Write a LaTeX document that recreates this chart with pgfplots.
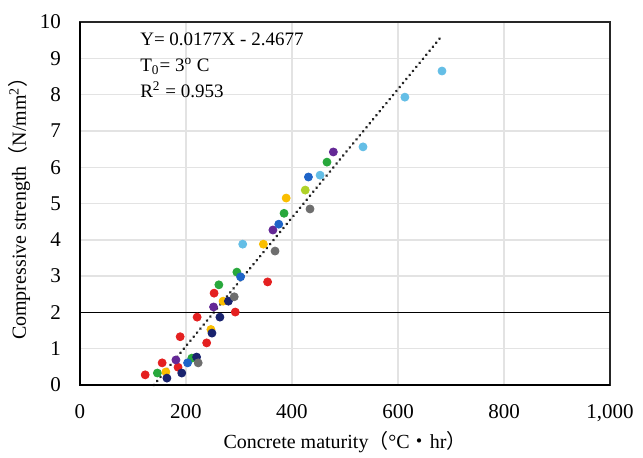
\documentclass[border=0pt]{standalone}
\usepackage{pgfplots}
\pgfplotsset{compat=1.18}
\usepackage{fontspec}
\setmainfont{Liberation Serif}
\newfontfamily\cjk{Noto Sans CJK JP}
\definecolor{cred}{RGB}{228,32,32}
\definecolor{cgreen}{RGB}{40,168,60}
\definecolor{cyellow}{RGB}{250,190,0}
\definecolor{cnavy}{RGB}{25,35,110}
\definecolor{cpurple}{RGB}{100,40,150}
\definecolor{cblue}{RGB}{30,100,200}
\definecolor{cgray}{RGB}{110,110,110}
\definecolor{clblue}{RGB}{100,190,230}
\definecolor{cygreen}{RGB}{175,210,40}
\begin{document}
\begin{tikzpicture}[font=\fontsize{10}{12}\selectfont,
  pt/.style={only marks, mark=*, mark size=2pt, color=#1}]
\begin{axis}[
    name=ax,
    scale only axis,
    width=265pt, height=181.5pt,
    xmin=0, xmax=1000, ymin=0, ymax=10,
    xtick={0,200,...,1000}, ytick={0,1,...,10},
    major tick length=0pt,
    grid=major,
    major grid style={line width=0.7pt, draw=gray!22},
    axis line style={line width=0.8pt, draw=black!85},
    /pgf/number format/assume math mode=true,
    /pgf/number format/1000 sep={,},
    tick label style={font=\fontsize{10.5}{12}\selectfont},
    xticklabel style={yshift=-6pt},
    yticklabel style={xshift=-6pt},
    xlabel={Concrete maturity{\cjk （}°C{\cjk ・}hr{\cjk ）}},
    ylabel={Compressive strength{\cjk （}N/mm\textsuperscript{2}{\cjk ）}},
    xlabel style={yshift=2pt},
    ylabel style={yshift=-2pt},
    clip=false,
]
\addplot[pt=cred] coordinates {(123,0.28) (155,0.61) (185,0.49) (189,1.33) (239,1.16) (221,1.87) (293,2.01) (253,2.53) (354,2.84)};
\addplot[pt=cgreen] coordinates {(146,0.33) (211,0.74) (262,2.76) (296,3.11) (385,4.73) (466,6.14)};
\addplot[pt=cyellow] coordinates {(162,0.36) (247,1.53) (270,2.31) (346,3.88) (389,5.15)};
\addplot[pt=cnavy] coordinates {(164,0.19) (192,0.33) (220,0.77) (249,1.43) (264,1.87) (280,2.31)};
\addplot[pt=cpurple] coordinates {(181,0.69) (252,2.15) (364,4.27) (478,6.42)};
\addplot[pt=cblue] coordinates {(203,0.61) (303,2.98) (375,4.43) (431,5.73)};
\addplot[pt=cgray] coordinates {(223,0.61) (291,2.43) (368,3.69) (434,4.85)};
\addplot[pt=clblue] coordinates {(307,3.88) (453,5.78) (534,6.56) (613,7.93) (683,8.65)};
\addplot[pt=cygreen] coordinates {(425,5.37)};
% linear fit
\addplot[mark=none, black!85, line width=1.5pt, dash pattern=on 0.01pt off 2.6pt, line cap=round] coordinates {(139.4,0) (680,9.568)};
% threshold line
\addplot[mark=none, black, line width=0.8pt] coordinates {(0,2) (1000,2)};
\node[anchor=north west, align=left, inner sep=0pt, font=\fontsize{9.5}{13}\selectfont] at (axis cs:113,9.7)
  {Y= 0.0177X - 2.4677\\T\textsubscript{0}= 3\textsuperscript{o} C\\R\textsuperscript{2} = 0.953};
\end{axis}
\draw[line width=1.3pt] (ax.north west) -- (ax.south west) -- (ax.south east);
\pgfresetboundingbox
\path ([xshift=-40pt,yshift=-36pt]ax.south west) rectangle ([xshift=16.5pt,yshift=11pt]ax.north east);
\end{tikzpicture}
\end{document}
